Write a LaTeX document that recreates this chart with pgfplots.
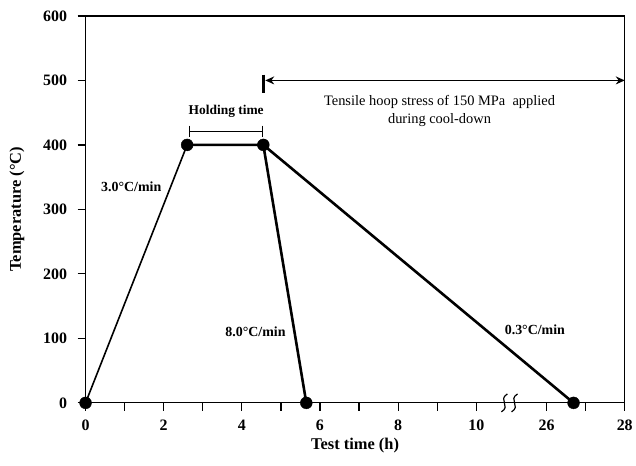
\documentclass[border=0pt]{standalone}
\usepackage{pgfplots}
\pgfplotsset{compat=1.18}
\usepackage{fontspec}
\setmainfont{Liberation Serif}
\usetikzlibrary{arrows.meta}

\begin{document}
\begin{tikzpicture}
\begin{axis}[
    scale only axis,
    width=542pt, height=389pt,
    xmin=0, xmax=13.8, ymin=0, ymax=600,
    clip=false,
    axis line style={line width=1.2pt},
    tick style={line width=1.2pt, black},
    tick align=outside,
    major tick length=8pt,
    xtick pos=left, ytick pos=left,
    % broken axis: 26 h is drawn at 11.8, 28 h at 13.8
    xtick={0,1,2,3,4,5,6,7,8,9,10,11.8,12.8,13.8},
    xticklabels={0,,2,,4,,6,,8,,10,26,,28},
    ytick={0,100,...,600},
    /pgf/number format/assume math mode=true,
    ticklabel style={font=\fontsize{16}{18}\selectfont\bfseries},
    xticklabel style={yshift=-6pt},
    yticklabel style={xshift=-7pt},
    xlabel={Test time (h)},
    ylabel={Temperature (°C)},
    label style={font=\fontsize{16.5}{18}\selectfont\bfseries},
    xlabel style={at={([yshift=-43pt]axis description cs:0.5,0)}, anchor=center},
    ylabel style={at={([xshift=-69pt]axis description cs:0,0.5)}, anchor=center},
]
% heating
\addplot[line width=1.6pt, mark=none] coordinates {(0,0) (2.6,400)};
% hold and fast cooling
\addplot[line width=2.6pt, mark=none] coordinates {(2.6,400) (4.55,400) (5.65,0)};
% slow cooling, ends at 26.69 h
\addplot[line width=2.6pt, mark=none] coordinates {(4.55,400) (12.49,0)};
\addplot[only marks, mark=*, mark size=6pt, black] coordinates {(0,0) (2.6,400) (4.55,400) (5.65,0) (12.49,0)};

% holding time bracket
\draw[line width=1.2pt] (axis cs:2.67,430) -- (axis cs:2.67,413);
\draw[line width=1.2pt] (axis cs:4.53,430) -- (axis cs:4.53,413);
\draw[line width=1.2pt] (axis cs:2.67,421) -- (axis cs:4.53,421);
\node[font=\fontsize{13.5}{15}\selectfont\bfseries] at (axis cs:3.6,452) {Holding time};

% stress arrow
\draw[line width=2.4pt] (axis cs:4.55,509) -- (axis cs:4.55,481);
\draw[line width=1.4pt, {Stealth[length=9pt,width=8pt]}-{Stealth[length=9pt,width=8pt]}]
    (axis cs:4.6,500) -- (axis cs:13.8,500);
\node[align=center, font=\fontsize{14.5}{18}\selectfont] at (axis cs:9.06,453)
    {Tensile hoop stress of 150 MPa\ \ applied\\during cool-down};

% rate labels
\node[font=\fontsize{14}{16}\selectfont\bfseries] at (axis cs:1.17,335) {3.0°C/min};
\node[font=\fontsize{14}{16}\selectfont\bfseries] at (axis cs:4.35,110) {8.0°C/min};
\node[font=\fontsize{14}{16}\selectfont\bfseries] at (axis cs:11.5,113) {0.3°C/min};

% axis break marks
\draw[line width=1.2pt] ([xshift=3pt,yshift=9pt]axis cs:10.72,0)
    .. controls ([xshift=-7pt,yshift=3pt]axis cs:10.72,0) and ([xshift=7pt,yshift=-3pt]axis cs:10.72,0)
    .. ([xshift=-3pt,yshift=-9pt]axis cs:10.72,0);
\draw[line width=1.2pt] ([xshift=3pt,yshift=9pt]axis cs:10.98,0)
    .. controls ([xshift=-7pt,yshift=3pt]axis cs:10.98,0) and ([xshift=7pt,yshift=-3pt]axis cs:10.98,0)
    .. ([xshift=-3pt,yshift=-9pt]axis cs:10.98,0);

\path ([shift={(-86pt,-63pt)}]rel axis cs:0,0) rectangle ([shift={(8pt,16pt)}]rel axis cs:1,1);
\end{axis}
\end{tikzpicture}
\end{document}
